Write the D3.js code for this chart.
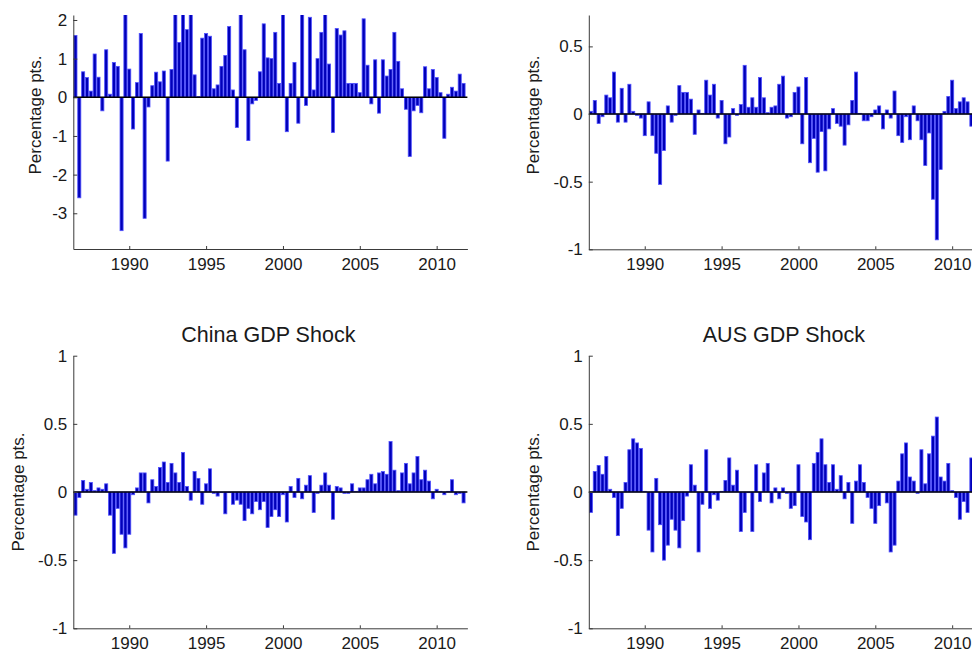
<!DOCTYPE html>
<html>
<head>
<meta charset="utf-8">
<script src="https://cdn.jsdelivr.net/npm/d3@7"></script>
<style>
  html, body { margin: 0; padding: 0; background: #fff; }
  svg { display: block; }
  text { font-family: "Liberation Sans", Arial, sans-serif; fill: #1a1a1a; }
</style>
</head>
<body>
<svg id="chart" width="972" height="653"></svg>
<script>
// Quarterly shocks, 1986Q3 .. 2011Q4 (102 quarters)
const firstQuarter = 1986.5;
const quarterCount = 102;

const topLeftShock = [
  1.6, -2.6, 0.66, 0.51, 0.16, 1.12, 0.52, -0.35, 1.23, 0.08,
  0.9, 0.8, -3.45, 2.6, 0.73, -0.82, 0.38, 1.65, -3.13, -0.25,
  0.3, 0.65, 0.4, 0.68, -1.65, 0.72, 2.5, 1.42, 2.4, 1.75,
  2.7, 0.58, 0.02, 1.53, 1.65, 1.58, 0.22, 0.32, 0.8, 1.08,
  1.83, 0.19, -0.78, 2.3, 1.23, -1.12, -0.17, -0.08, 0.66, 1.9,
  1.02, 1.0, 1.68, 0.36, 2.4, -0.89, 0.36, 0.9, -0.67, 2.5,
  -0.21, 2.07, 0.19, 1.0, 1.68, 2.3, 0.86, -0.91, 1.78, 1.61,
  1.72, 0.36, 0.36, 0.36, 0.12, 2.03, 0.83, -0.17, 0.97, -0.41,
  0.97, 0.55, 0.72, 1.68, 0.93, 0.22, -0.31, -1.53, -0.35, -0.21,
  -0.4, 0.79, 0.22, 0.72, 0.51, 0.12, -1.06, 0.08, 0.26, 0.16,
  0.6, 0.36
];

const topRightShock = [
  0.02, 0.1, -0.07, -0.02, 0.14, 0.12, 0.31, -0.06, 0.19, -0.06,
  0.22, 0.02, -0.01, -0.03, -0.16, 0.09, -0.16, -0.29, -0.52, -0.27,
  0.06, -0.06, -0.01, 0.21, 0.16, 0.16, 0.11, -0.15, 0.03, 0.005,
  0.25, 0.14, 0.22, -0.03, 0.1, -0.22, -0.17, 0.04, -0.01, 0.07,
  0.36, 0.05, 0.12, 0.05, 0.27, 0.12, 0.01, 0.05, 0.06, 0.22,
  0.28, -0.03, -0.02, 0.16, 0.2, -0.22, 0.27, -0.36, -0.18, -0.43,
  -0.13, -0.42, -0.11, 0.04, -0.07, -0.09, -0.23, -0.08, 0.1, 0.31,
  0.005, -0.05, -0.05, -0.02, 0.03, 0.06, -0.11, 0.03, -0.03, 0.17,
  -0.16, -0.21, -0.02, -0.19, 0.06, -0.05, -0.19, -0.38, -0.14, -0.63,
  -0.93, -0.41, 0.02, 0.13, 0.25, 0.04, 0.09, 0.12, 0.09, -0.09,
  -0.04, 0.05
];

const chinaGdpShock = [
  -0.17, -0.04, 0.085, 0.02, 0.07, 0.01, 0.03, 0.02, 0.06, -0.17,
  -0.45, -0.12, -0.31, -0.41, -0.31, -0.02, 0.03, 0.14, 0.14, -0.08,
  0.09, 0.04, 0.18, 0.22, 0.07, 0.21, 0.14, 0.07, 0.29, 0.04,
  -0.06, 0.15, 0.1, -0.09, 0.06, 0.17, -0.01, -0.03, -0.005, -0.16,
  -0.005, -0.09, -0.06, -0.09, -0.21, -0.12, -0.16, -0.07, -0.13, -0.07,
  -0.26, -0.18, -0.13, -0.18, -0.02, -0.22, 0.04, -0.04, 0.1, -0.05,
  0.05, 0.12, -0.15, -0.01, 0.05, 0.14, 0.05, -0.2, 0.04, 0.03,
  -0.01, -0.01, 0.06, 0.005, 0.03, 0.03, 0.09, 0.13, 0.06, 0.14,
  0.15, 0.13, 0.37, 0.16, 0.01, 0.14, 0.21, 0.06, 0.14, 0.26,
  0.09, 0.16, 0.08, -0.05, 0.02, 0.005, -0.02, 0.005, 0.09, -0.02,
  -0.01, -0.08
];

const ausGdpShock = [
  -0.15, 0.15, 0.195, 0.13, 0.26, 0.02, -0.04, -0.32, -0.12, 0.07,
  0.31, 0.39, 0.36, 0.32, 0.005, -0.28, -0.44, 0.1, -0.24, -0.5,
  -0.39, -0.2, -0.28, -0.41, -0.21, -0.03, 0.2, 0.05, -0.44, -0.09,
  0.31, -0.12, -0.02, -0.06, 0.005, 0.085, 0.25, 0.05, 0.16, -0.29,
  -0.15, -0.005, -0.29, 0.2, -0.07, 0.14, 0.21, -0.08, 0.03, -0.05,
  0.03, -0.01, -0.12, -0.1, 0.2, -0.18, -0.22, -0.35, 0.21, 0.29,
  0.39, 0.2, 0.07, 0.2, 0.02, 0.12, -0.05, 0.07, -0.23, 0.08,
  0.2, 0.07, -0.04, -0.12, -0.23, -0.1, -0.005, -0.08, -0.44, -0.39,
  0.08, 0.28, 0.36, 0.11, 0.08, -0.01, 0.31, 0.06, 0.28, 0.41,
  0.55, 0.11, 0.08, 0.21, 0.01, -0.04, -0.2, -0.07, -0.15, 0.25,
  0.03, 0.1
];

const yearTicks = [1990, 1995, 2000, 2005, 2010];
const tallTicks = [-3, -2, -1, 0, 1, 2];
const halfTicks = [-1, -0.5, 0, 0.5];
const fullTicks = [-1, -0.5, 0, 0.5, 1];
const yLabel = "Percentage pts.";
const chinaTitle = "China GDP Shock";
const ausTitle = "AUS GDP Shock";

const quarters = d3.range(quarterCount).map(i => firstQuarter + i / 4);

// Layout of the four axes boxes (pixels)
const panels = [
  { values: topLeftShock, left: 73.3, top: 15, bottom: 249, yDomain: [-3.924, 2.129],
    yTicks: tallTicks, title: null, labelX: 35, labelY: 115 },
  { values: topRightShock, left: 588.8, top: 15, bottom: 249.3, yDomain: [-1, 0.732],
    yTicks: halfTicks, title: null, labelX: 533.5, labelY: 115 },
  { values: chinaGdpShock, left: 73.3, top: 355.7, bottom: 628.3, yDomain: [-1, 1],
    yTicks: fullTicks, title: chinaTitle, labelX: 18.3, labelY: 492 },
  { values: ausGdpShock, left: 588.8, top: 355.7, bottom: 628.3, yDomain: [-1, 1],
    yTicks: fullTicks, title: ausTitle, labelX: 533, labelY: 492 }
];
const axesWidth = 394.1;
const xDomain = [1986.36, 2012.0];

const svg = d3.select("#chart");
svg.append("rect").attr("width", 972).attr("height", 653).attr("fill", "#fff");

panels.forEach((p, k) => {
  const x = d3.scaleLinear().domain(xDomain).range([p.left, p.left + axesWidth]);
  const y = d3.scaleLinear().domain(p.yDomain).range([p.bottom, p.top]);
  const barW = x(xDomain[0] + 0.2) - x(xDomain[0]);

  const clipId = "clip" + k;
  svg.append("clipPath").attr("id", clipId)
    .append("rect")
    .attr("x", p.left).attr("y", p.top)
    .attr("width", axesWidth).attr("height", p.bottom - p.top);

  const g = svg.append("g");

  // bars
  g.append("g").attr("clip-path", `url(#${clipId})`)
    .selectAll("rect")
    .data(p.values.map((v, i) => ({ t: quarters[i], v })))
    .join("rect")
    .attr("x", d => x(d.t) - barW / 2)
    .attr("width", barW)
    .attr("y", d => Math.min(y(d.v), y(0)))
    .attr("height", d => Math.abs(y(d.v) - y(0)))
    .attr("fill", "#0000b8")
    .attr("stroke", "#5050ff")
    .attr("stroke-width", 0.8);

  // zero baseline
  g.append("line")
    .attr("x1", p.left).attr("x2", p.left + axesWidth)
    .attr("y1", y(0)).attr("y2", y(0))
    .attr("stroke", "#000").attr("stroke-width", 1.6);

  // axes
  const yAxis = d3.axisLeft(y).tickValues(p.yTicks)
    .tickFormat(d => String(d))
    .tickSizeInner(-4).tickSizeOuter(0).tickPadding(6);
  const xAxis = d3.axisBottom(x).tickValues(yearTicks)
    .tickFormat(d3.format("d"))
    .tickSizeInner(-3).tickSizeOuter(0).tickPadding(9);

  const ya = g.append("g").attr("transform", `translate(${p.left},0)`).call(yAxis);
  const xa = g.append("g").attr("transform", `translate(0,${p.bottom})`).call(xAxis);
  [ya, xa].forEach(a => {
    a.select(".domain").attr("stroke", "#3a3a3a").attr("stroke-width", 1);
    a.selectAll(".tick line").attr("stroke", "#3a3a3a").attr("stroke-width", 1);
    a.selectAll(".tick text")
      .attr("font-size", 17)
      .attr("font-family", "'Liberation Sans', Arial, sans-serif")
      .attr("fill", "#1a1a1a");
  });

  // y label
  g.append("text")
    .attr("transform", `translate(${p.labelX},${p.labelY}) rotate(-90)`)
    .attr("text-anchor", "middle")
    .attr("dominant-baseline", "central")
    .attr("font-size", 17)
    .text(yLabel);

  // title
  if (p.title) {
    g.append("text")
      .attr("x", p.left + axesWidth / 2 - 2)
      .attr("y", 341.7)
      .attr("text-anchor", "middle")
      .attr("font-size", 21.5)
      .text(p.title);
  }
});
</script>
</body>
</html>
